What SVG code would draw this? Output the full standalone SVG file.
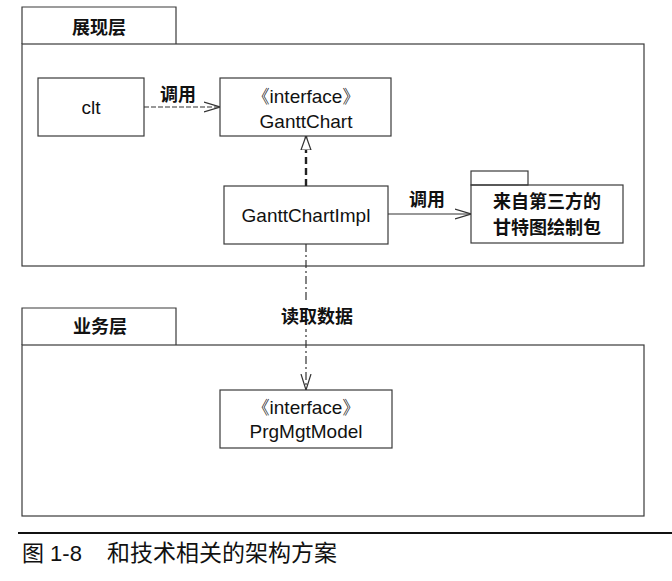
<svg xmlns="http://www.w3.org/2000/svg" width="672" height="581" viewBox="0 0 672 581">
<style>
.box{fill:none;stroke:#3a3a3a;stroke-width:1.2}
.en{font-family:"Liberation Sans",Arial,sans-serif;font-size:19px;fill:#111;text-anchor:middle}
.cn{font-family:"Noto Sans CJK SC",sans-serif;font-size:18px;font-weight:bold;fill:#111;text-anchor:middle}
.ln{fill:none;stroke:#333;stroke-width:1.2}
</style>
<defs>
<marker id="open" viewBox="0 0 16 12" refX="16" refY="6" markerWidth="16" markerHeight="12" markerUnits="userSpaceOnUse" orient="auto">
<path d="M0,1 L16,6 L0,11" fill="none" stroke="#333" stroke-width="1.2"/>
</marker>
<marker id="tri" viewBox="0 0 14 16" refX="14" refY="7" markerWidth="14" markerHeight="16" markerUnits="userSpaceOnUse" orient="auto">
<path d="M0,2 L14,7 L0,12 Z" fill="#fff" stroke="#333" stroke-width="1.2"/>
</marker>
</defs>
<rect width="672" height="581" fill="#fff"/>
<g id="pkg-presentation">
<path class="box" d="M22,44 L22,7 L176,7 L176,44"/>
<rect class="box" x="22" y="44" width="622" height="222"/>
<text class="cn" x="99" y="34">展现层</text>
</g>
<g id="pkg-business">
<path class="box" d="M22,345 L22,308 L176,308 L176,345"/>
<rect class="box" x="22" y="345" width="622" height="171"/>
<text class="cn" x="100" y="333">业务层</text>
</g>
<g id="clt">
<rect class="box" x="38" y="78" width="106" height="58"/>
<text class="en" x="91" y="114">clt</text>
</g>
<g id="GanttChart">
<rect class="box" x="220" y="78" width="171" height="58"/>
<text class="en" x="306" y="103">《interface》</text>
<text class="en" x="306" y="128">GanttChart</text>
</g>
<g id="GanttChartImpl">
<rect class="box" x="224" y="186" width="164" height="58"/>
<text class="en" x="306" y="222">GanttChartImpl</text>
</g>
<g id="thirdparty">
<rect class="box" x="471" y="171" width="57" height="14"/>
<rect class="box" x="471" y="185" width="152" height="58"/>
<text class="cn" x="547" y="208">来自第三方的</text>
<text class="cn" x="547" y="234">甘特图绘制包</text>
</g>
<g id="PrgMgtModel">
<rect class="box" x="220" y="390" width="172" height="58"/>
<text class="en" x="306" y="414">《interface》</text>
<text class="en" x="306" y="438">PrgMgtModel</text>
</g>
<g id="connectors">
<line class="ln" x1="144" y1="107" x2="220" y2="107" stroke-dasharray="5,2" marker-end="url(#open)"/>
<text class="cn" x="178" y="101">调用</text>
<line x1="306" y1="186" x2="306" y2="136" stroke="#222" stroke-width="2.4" stroke-dasharray="7,4" marker-end="url(#tri)"/>
<line class="ln" x1="388" y1="214" x2="471" y2="214" marker-end="url(#open)"/>
<text class="cn" x="427" y="206">调用</text>
<line class="ln" x1="306" y1="244" x2="306" y2="390" stroke-dasharray="8,3,2,3" marker-end="url(#open)"/>
<rect x="270" y="303" width="80" height="26" fill="#fff"/>
<text class="cn" x="317" y="323">读取数据</text>
</g>
<g id="caption">
<line x1="18" y1="533" x2="672" y2="533" stroke="#111" stroke-width="2"/>
<text x="22" y="561" font-family="Liberation Sans,'Noto Sans CJK SC',sans-serif" font-size="22px" fill="#111">图 1-8</text>
<text x="107" y="561" font-family="'Noto Sans CJK SC',sans-serif" font-size="23px" fill="#111">和技术相关的架构方案</text>
</g>
</svg>
